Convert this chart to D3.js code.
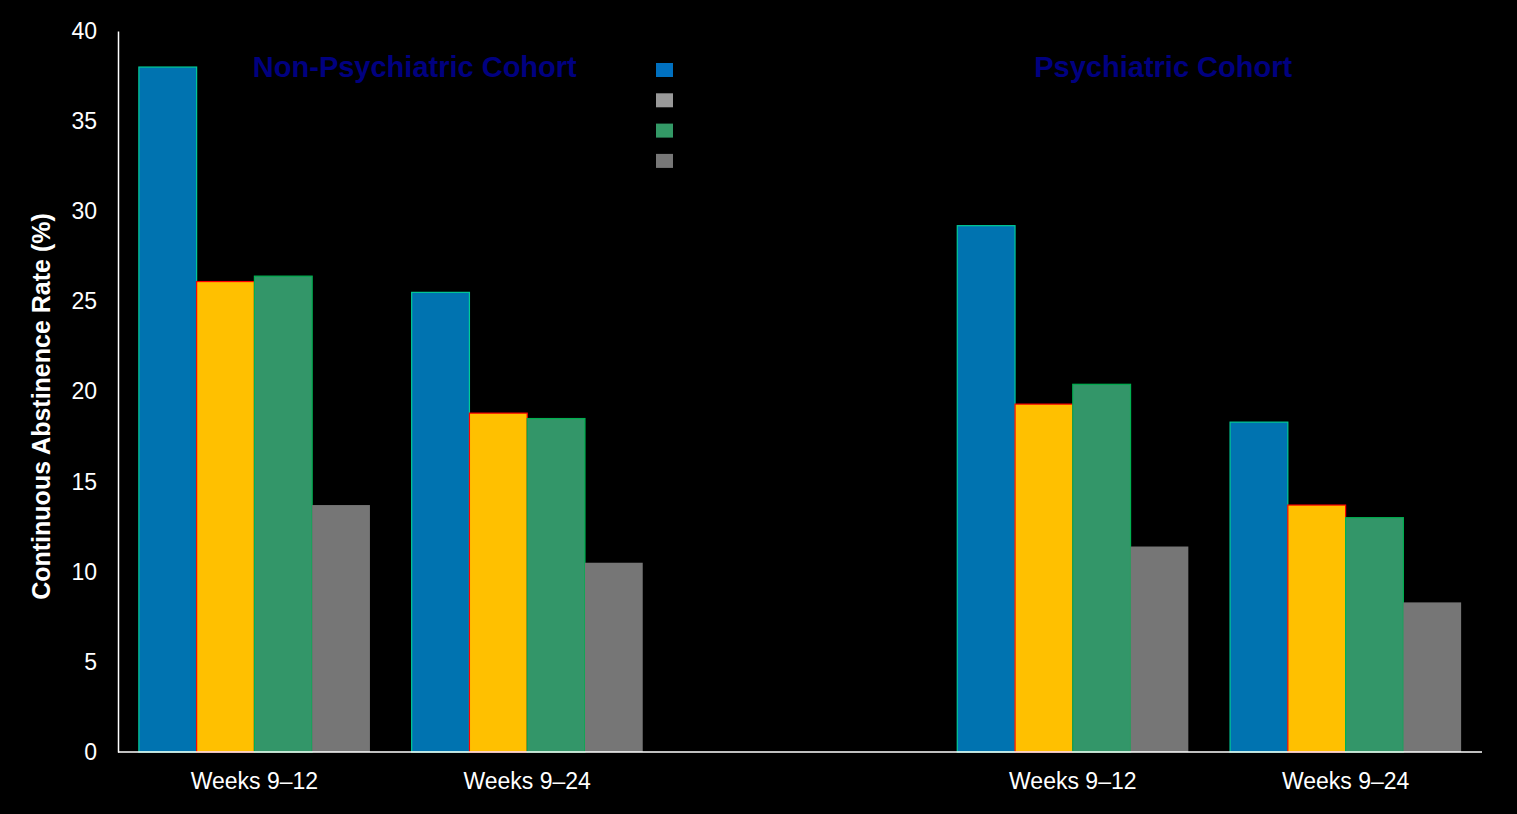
<!DOCTYPE html>
<html>
<head>
<meta charset="utf-8">
<script src="https://cdn.jsdelivr.net/npm/d3@7"></script>
<style>
  body { margin: 0; background: #000; }
  svg { display: block; }
</style>
</head>
<body>
<div id="chart"></div>
<script>
// groups along the x axis, "" is the empty slot between the two cohorts
var groups = ["NP 9-12", "NP 9-24", "", "P 9-12", "P 9-24"];
var groupLabels = ["Weeks 9\u201312", "Weeks 9\u201324", "", "Weeks 9\u201312", "Weeks 9\u201324"];
var series = ["Varenicline", "Bupropion", "NRT", "Placebo"];

// continuous abstinence rate (%) per series, in group order
var varenicline = [38.0, 25.5, null, 29.2, 18.3];
var bupropion   = [26.1, 18.8, null, 19.3, 13.7];
var nrt         = [26.4, 18.5, null, 20.4, 13.0];
var placebo     = [13.7, 10.5, null, 11.4, 8.3];

var yTicks = [0, 5, 10, 15, 20, 25, 30, 35, 40];
var cohorts = [
  { name: "Non-Psychiatric Cohort", from: "NP 9-12", to: "NP 9-24", shift: 24 },
  { name: "Psychiatric Cohort", from: "P 9-12", to: "P 9-24", shift: -46 }
];

var barFill   = ["#0073B0", "#FFC000", "#339669", "#767676"];
var barStroke = ["#00CC99", "#FF0000", "#00B050", "none"];
var legendFill = ["#0070C0", "#999999", "#339966", "#777777"];

var width = 1517, height = 814;
var margin = { top: 31, right: 35, bottom: 62, left: 118 };
var font = "Liberation Sans, Arial, sans-serif";

var svg = d3.select("#chart")
            .append("svg")
            .attr("width", width)
            .attr("height", height)
            .style("background", "#000");

var x0 = d3.scaleBand()
           .domain(groups)
           .range([margin.left, width - margin.right])
           .paddingInner(0.153)
           .paddingOuter(0.0765);

var x1 = d3.scaleBand()
           .domain(series)
           .range([0, x0.bandwidth()]);

var y = d3.scaleLinear()
          .domain([0, 40])
          .range([height - margin.bottom, margin.top]);

var values = [varenicline, bupropion, nrt, placebo];
var rows = [];
groups.forEach(function(g, gi) {
  series.forEach(function(s, si) {
    if (values[si][gi] != null) {
      rows.push({ group: g, series: s, si: si, value: values[si][gi] });
    }
  });
});

// bars
svg.append("g")
   .selectAll("rect")
   .data(rows)
   .enter()
   .append("rect")
   .attr("x", function(d) { return x0(d.group) + x1(d.series); })
   .attr("y", function(d) { return y(d.value); })
   .attr("width", x1.bandwidth())
   .attr("height", function(d) { return y(0) - y(d.value); })
   .attr("fill", function(d) { return barFill[d.si]; })
   .attr("stroke", function(d) { return barStroke[d.si]; })
   .attr("stroke-width", 1.2);

// y axis
var yAxis = svg.append("g")
   .attr("transform", "translate(" + margin.left + ",0)")
   .call(d3.axisLeft(y).tickValues(yTicks).tickSize(0).tickPadding(21));
yAxis.select(".domain").attr("stroke", "#fff").attr("stroke-width", 1.5);
yAxis.selectAll("text")
   .attr("fill", "#fff")
   .style("font-family", font)
   .style("font-size", "23px");

// x axis
var xAxis = svg.append("g")
   .attr("transform", "translate(0," + y(0) + ")")
   .call(d3.axisBottom(x0).tickSize(0).tickPadding(21)
           .tickFormat(function(d, i) { return groupLabels[i]; }));
xAxis.select(".domain").attr("stroke", "#fff").attr("stroke-width", 1.5)
   .attr("d", "M" + margin.left + ",0H" + (width - margin.right));
xAxis.selectAll("text")
   .attr("fill", "#fff")
   .style("font-family", font)
   .style("font-size", "23px");

// y title
svg.append("text")
   .attr("transform", "translate(50," + ((y(0) + y(40)) / 2 + 15) + ") rotate(-90)")
   .attr("text-anchor", "middle")
   .attr("fill", "#fff")
   .style("font-family", font)
   .style("font-size", "25px")
   .style("font-weight", "bold")
   .text("Continuous Abstinence Rate (%)");

// cohort titles
svg.selectAll("cohort_titles")
   .data(cohorts)
   .enter()
   .append("text")
   .attr("x", function(d) {
      return (x0(d.from) + x0(d.to) + x0.bandwidth()) / 2 + d.shift;
   })
   .attr("y", 77)
   .attr("text-anchor", "middle")
   .attr("fill", "#000080")
   .style("font-family", font)
   .style("font-size", "29px")
   .style("font-weight", "bold")
   .text(function(d) { return d.name; });

// legend (labels are black on black in the original)
var legend = svg.append("g").attr("transform", "translate(656,63)");
var items = legend.selectAll("g")
   .data(series)
   .enter()
   .append("g")
   .attr("transform", function(d, i) { return "translate(0," + (i * 30.3) + ")"; });
items.append("rect")
   .attr("width", 17)
   .attr("height", 14)
   .attr("fill", function(d, i) { return legendFill[i]; });
items.append("text")
   .attr("x", 26)
   .attr("y", 13)
   .attr("fill", "#000")
   .style("font-family", font)
   .style("font-size", "18px")
   .text(function(d) { return d; });
</script>
</body>
</html>
